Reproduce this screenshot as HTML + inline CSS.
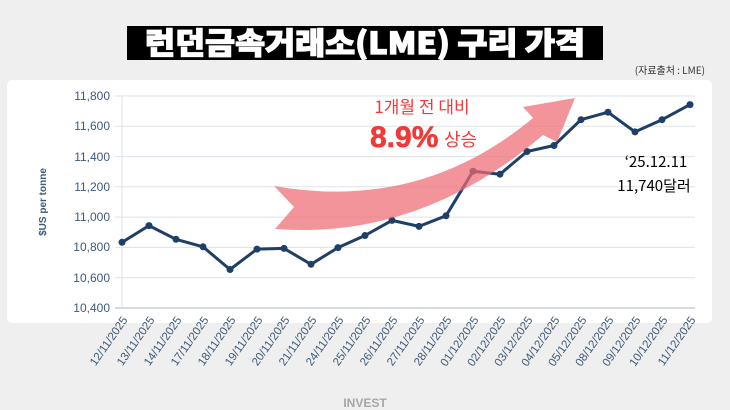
<!DOCTYPE html>
<html><head><meta charset="utf-8"><style>
html,body{margin:0;padding:0;background:#efefef;}
body{width:730px;height:410px;position:relative;overflow:hidden;font-family:"Liberation Sans","Noto Sans CJK KR",sans-serif;}
</style></head><body>
<svg width="730" height="410" xmlns="http://www.w3.org/2000/svg" style="position:absolute;left:0;top:0">
<rect x="127" y="26" width="476" height="34" fill="#000"/>
<text x="365" y="54" text-anchor="middle" font-family="Noto Sans CJK KR, sans-serif" font-weight="900" font-size="30" fill="#fff" stroke="#fff" stroke-width="1.2" textLength="440" lengthAdjust="spacingAndGlyphs">런던금속거래소(LME) 구리 가격</text>
<text x="705" y="74" text-anchor="end" font-family="Noto Sans CJK KR, sans-serif" font-size="10" fill="#333">(자료출처 : LME)</text>
<rect x="7" y="80" width="705" height="243" rx="5" fill="#fff"/>
<g stroke="#dde3ea" stroke-width="1">
<line x1="115" x2="695" y1="96" y2="96"/><line x1="115" x2="695" y1="126.3" y2="126.3"/>
<line x1="115" x2="695" y1="156.6" y2="156.6"/><line x1="115" x2="695" y1="186.8" y2="186.8"/>
<line x1="115" x2="695" y1="217.1" y2="217.1"/><line x1="115" x2="695" y1="247.4" y2="247.4"/>
<line x1="115" x2="695" y1="277.7" y2="277.7"/>
<line x1="122" x2="122" y1="96" y2="308"/>
</g>
<line x1="115" x2="695" y1="308" y2="308" stroke="#d6d9dd" stroke-width="2"/>
<g font-size="12" fill="#3e5a7a" text-anchor="end">
<text x="110" y="100">11,800</text><text x="110" y="130">11,600</text><text x="110" y="161">11,400</text>
<text x="110" y="191">11,200</text><text x="110" y="221">11,000</text><text x="110" y="251">10,800</text>
<text x="110" y="282">10,600</text><text x="110" y="312">10,400</text>
</g>
<text transform="translate(46,202) rotate(-90)" text-anchor="middle" font-size="10" font-weight="bold" fill="#3e5a7a">$US per tonne</text>
<polyline fill="none" stroke="#1f3f66" stroke-width="3" stroke-linejoin="round" points="122,242.3 149,225.6 176,239.3 203,246.8 230,269.5 257,249.1 284,248.4 311,264.3 338,247.6 365,235.5 392,220.4 419,226.4 446,215.8 473,171.2 500,174.2 527,151.5 554,145.5 581,119.7 608,112.2 635,131.9 662,119.7 690,104.6"/>
<g fill="#1f3f66">
<circle cx="122" cy="242.3" r="3.5"/><circle cx="149" cy="225.6" r="3.5"/><circle cx="176" cy="239.3" r="3.5"/><circle cx="203" cy="246.8" r="3.5"/><circle cx="230" cy="269.5" r="3.5"/><circle cx="257" cy="249.1" r="3.5"/><circle cx="284" cy="248.4" r="3.5"/><circle cx="311" cy="264.3" r="3.5"/><circle cx="338" cy="247.6" r="3.5"/><circle cx="365" cy="235.5" r="3.5"/><circle cx="392" cy="220.4" r="3.5"/><circle cx="419" cy="226.4" r="3.5"/><circle cx="446" cy="215.8" r="3.5"/><circle cx="473" cy="171.2" r="3.5"/><circle cx="500" cy="174.2" r="3.5"/><circle cx="527" cy="151.5" r="3.5"/><circle cx="554" cy="145.5" r="3.5"/><circle cx="581" cy="119.7" r="3.5"/><circle cx="608" cy="112.2" r="3.5"/><circle cx="635" cy="131.9" r="3.5"/><circle cx="662" cy="119.7" r="3.5"/><circle cx="690" cy="104.6" r="3.5"/>
</g>
<path d="M274,186 Q420,212 533,118 L523,107 L575,98 L557,142 L543,135 Q420,240 275,229 L294,207 Z" fill="#ee6b73" fill-opacity="0.72"/>
<text x="422" y="113" text-anchor="middle" font-family="Noto Sans CJK KR, sans-serif" font-size="17" fill="#f03a3a">1개월 전 대비</text>
<text x="370" y="147" font-size="30" font-weight="bold" fill="#f03a3a" stroke="#f03a3a" stroke-width="0.6">8.9%</text>
<text x="444" y="146" font-family="Noto Sans CJK KR, sans-serif" font-size="18" fill="#f03a3a">상승</text>
<text x="656" y="167" text-anchor="middle" font-family="Noto Sans CJK KR, sans-serif" font-size="15" fill="#000">‘25.12.11</text>
<text x="654" y="191" text-anchor="middle" font-family="Noto Sans CJK KR, sans-serif" font-size="15" fill="#000">11,740달러</text>
<g font-size="11.5" fill="#3e5a7a" text-anchor="end">
<text transform="translate(128,320) rotate(-55)">12/11/2025</text>
<text transform="translate(155,320) rotate(-55)">13/11/2025</text>
<text transform="translate(182,320) rotate(-55)">14/11/2025</text>
<text transform="translate(209,320) rotate(-55)">17/11/2025</text>
<text transform="translate(236,320) rotate(-55)">18/11/2025</text>
<text transform="translate(263,320) rotate(-55)">19/11/2025</text>
<text transform="translate(290,320) rotate(-55)">20/11/2025</text>
<text transform="translate(317,320) rotate(-55)">21/11/2025</text>
<text transform="translate(344,320) rotate(-55)">24/11/2025</text>
<text transform="translate(371,320) rotate(-55)">25/11/2025</text>
<text transform="translate(398,320) rotate(-55)">26/11/2025</text>
<text transform="translate(425,320) rotate(-55)">27/11/2025</text>
<text transform="translate(452,320) rotate(-55)">28/11/2025</text>
<text transform="translate(479,320) rotate(-55)">01/12/2025</text>
<text transform="translate(506,320) rotate(-55)">02/12/2025</text>
<text transform="translate(533,320) rotate(-55)">03/12/2025</text>
<text transform="translate(560,320) rotate(-55)">04/12/2025</text>
<text transform="translate(587,320) rotate(-55)">05/12/2025</text>
<text transform="translate(614,320) rotate(-55)">08/12/2025</text>
<text transform="translate(641,320) rotate(-55)">09/12/2025</text>
<text transform="translate(668,320) rotate(-55)">10/12/2025</text>
<text transform="translate(696,320) rotate(-55)">11/12/2025</text>
</g>
<text x="365" y="407" text-anchor="middle" font-size="12" font-weight="bold" fill="#a6a6a6">INVEST</text>
</svg>
</body></html>
